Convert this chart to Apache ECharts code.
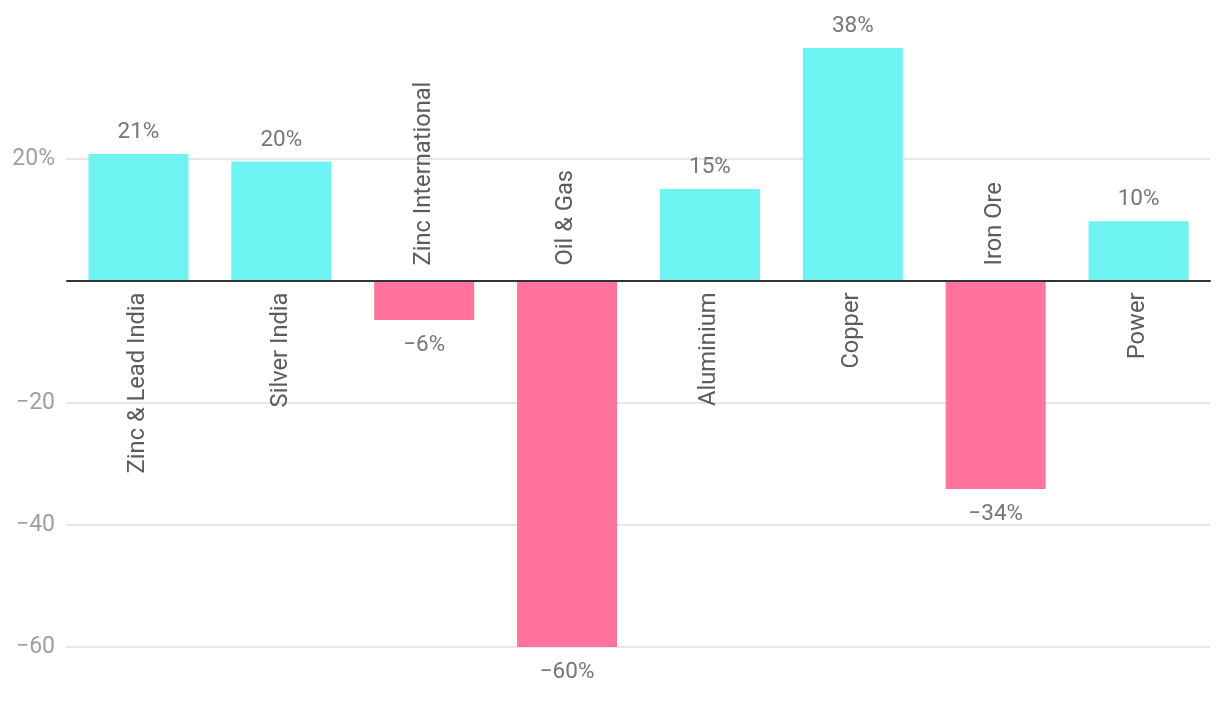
<!DOCTYPE html>
<html>
<head>
<meta charset="utf-8">
<script src="https://cdn.jsdelivr.net/npm/echarts@6/dist/echarts.min.js"></script>
<style>
  html, body { margin: 0; padding: 0; background: #ffffff; }
  #chart { width: 1220px; height: 702px; }
</style>
</head>
<body>
<div id="chart"></div>
<script>
const categories = ["Zinc & Lead India", "Silver India", "Zinc International", "Oil & Gas", "Aluminium", "Copper", "Iron Ore", "Power"];
const values = [20.8, 19.6, -6.4, -60, 15.1, 38.2, -34.1, 9.8];
const valueLabels = ["21%", "20%", "−6%", "−60%", "15%", "38%", "−34%", "10%"];
const yTickLabels = { "20": "20%", "0": "", "-20": "−20", "-40": "−40", "-60": "−60" };

const POS = "#6ef3f3";
const NEG = "#ff739d";
const FONT = "Roboto";

const chart = echarts.init(document.getElementById("chart"), null, { renderer: "canvas" });

const barData = values.map((v, i) => ({
  value: v,
  itemStyle: { color: v >= 0 ? POS : NEG },
  label: {
    position: v >= 0 ? "top" : "bottom",
    distance: v >= 0 ? 10 : 14,
    formatter: valueLabels[i]
  }
}));

const catData = categories.map((c, i) => {
  const pos = values[i] >= 0;
  return {
    value: [i, 0],
    label: {
      show: true,
      formatter: c,
      position: pos ? [0, 12] : [0, -15],
      rotate: 90,
      align: pos ? "right" : "left",
      verticalAlign: "middle",
      color: "#333333",
      fontSize: 23.7,
      fontFamily: FONT
    }
  };
});

chart.setOption({
  animation: false,
  backgroundColor: "#ffffff",
  grid: { left: 67, right: 10, top: 37, bottom: 55, containLabel: false },
  xAxis: {
    type: "category",
    data: categories,
    axisLine: { onZero: true, lineStyle: { color: "#333333", width: 2 } },
    axisTick: { show: false },
    axisLabel: { show: false },
    splitLine: { show: false },
    z: 10
  },
  yAxis: {
    type: "value",
    min: -60,
    max: 40,
    interval: 20,
    axisLine: { show: false },
    axisTick: { show: false },
    axisLabel: {
      showMaxLabel: false,
      margin: 12,
      color: "#9e9e9e",
      fontSize: 23,
      fontFamily: FONT,
      formatter: v => (yTickLabels[String(v)] !== undefined ? yTickLabels[String(v)] : String(v))
    },
    splitLine: { show: true, showMaxLine: false, lineStyle: { color: "#e6e6e6", width: 2 } }
  },
  series: [
    {
      type: "bar",
      data: barData,
      barWidth: 100,
      label: {
        show: true,
        color: "#767676",
        fontSize: 22.5,
        fontFamily: FONT
      }
    },
    {
      type: "scatter",
      data: catData,
      symbolSize: 1,
      itemStyle: { color: "rgba(0,0,0,0)" },
      silent: true,
      z: 5
    }
  ]
});
</script>
</body>
</html>
